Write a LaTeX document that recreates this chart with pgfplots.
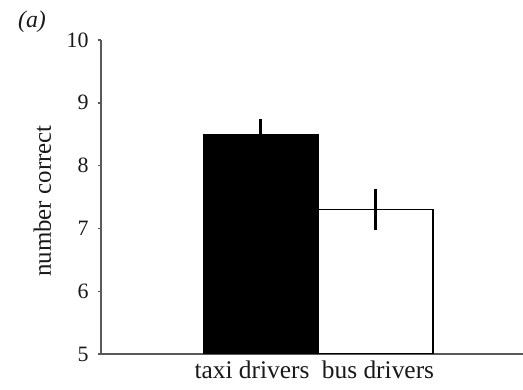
\documentclass[border=0pt]{standalone}
\usepackage{pgfplots}
\pgfplotsset{compat=1.18}
\usepackage{fontspec}
\setmainfont{Liberation Serif}

\begin{document}
\begin{tikzpicture}[x=1bp,y=1bp]
\useasboundingbox (-101bp,-36bp) rectangle (422bp,354bp);
\begin{axis}[
  at={(0,0)}, anchor=origin,
  scale only axis,
  width=422bp, height=314bp,
  xmin=0, xmax=422,
  ymin=5, ymax=10,
  axis lines=left,
  axis line style={-, line width=1.8bp, black!65},
  ytick={5,6,7,8,9,10},
  xtick={151,277},
  xticklabels={taxi drivers, bus drivers},
  major x tick style={draw=none},
  major y tick style={line width=1.4bp, black!65},
  major tick length=3bp,
  tick align=outside,
  /pgf/number format/assume math mode=true,
  yticklabel style={font=\fontsize{22}{26}\selectfont, black!90, xshift=-6bp},
  xticklabel style={font=\fontsize{25.5}{28}\selectfont, black!90, yshift=0bp},
  ylabel={number correct},
  ylabel style={font=\fontsize{25}{28}\selectfont, black!90,
    at={(axis description cs:-0.139,0.487)}, anchor=center},
  ybar, bar width=115, bar shift=0pt,
]
\addplot[fill=black, draw=black, line width=0.8bp,
  error bars/.cd, y dir=both, y explicit, error mark=none,
  error bar style={line width=2.6bp, black}]
  coordinates {(159.5,8.5) +- (0,0.25)};
\addplot[fill=white, draw=black, line width=1.2bp,
  error bars/.cd, y dir=both, y explicit, error mark=none,
  error bar style={line width=2.6bp, black}]
  coordinates {(274.5,7.3) +- (0,0.33)};
\end{axis}
\node[font=\fontsize{24}{28}\selectfont\itshape, black!90] at (-69bp,332bp) {(a)};
\end{tikzpicture}
\end{document}
